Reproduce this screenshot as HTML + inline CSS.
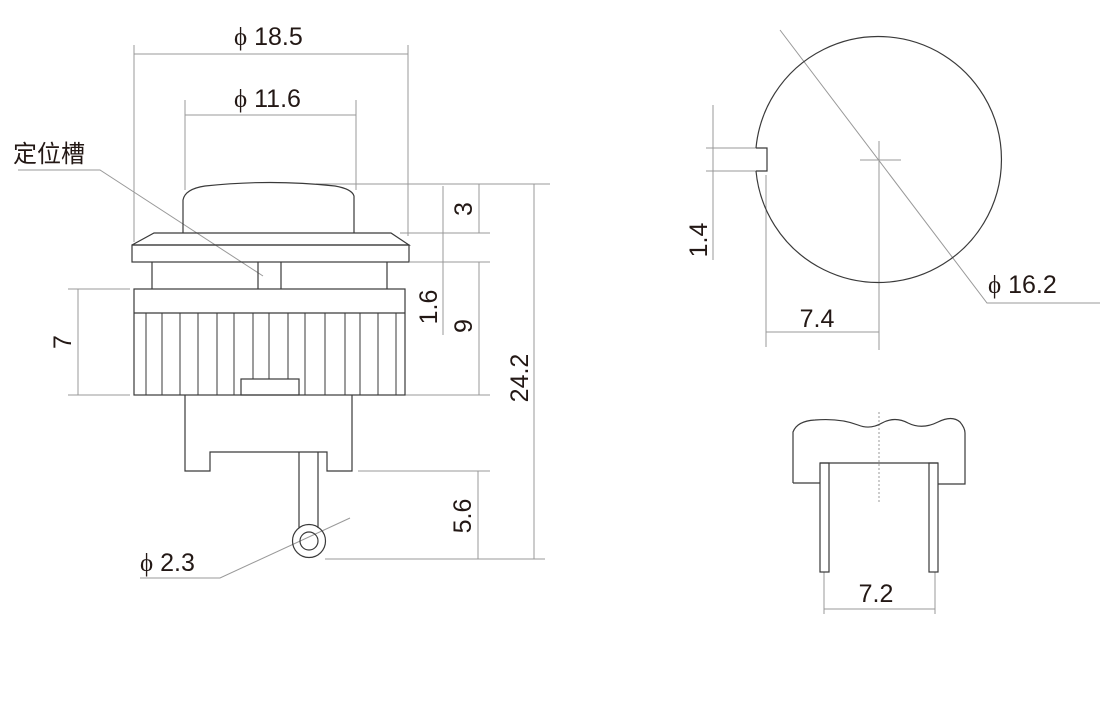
<!DOCTYPE html>
<html><head><meta charset="utf-8"><style>
html,body{margin:0;padding:0;background:#fff;}
svg{display:block;}
text{font-family:"Liberation Sans","Noto Sans CJK SC",sans-serif;fill:#231815;}
.p{font-family:"Liberation Serif",serif;}
</style></head><body>
<svg width="1120" height="712" viewBox="0 0 1120 712" xmlns="http://www.w3.org/2000/svg">
<g fill="none" stroke="#999" stroke-width="1">
<line x1="134" y1="45" x2="134" y2="242"/><line x1="408" y1="45" x2="408" y2="236"/>
<line x1="134" y1="54" x2="408" y2="54"/>
<line x1="185" y1="100" x2="185" y2="190"/><line x1="356" y1="100" x2="356" y2="190"/>
<line x1="185" y1="115" x2="356" y2="115"/>
<polyline points="18,170 100,170 263,276"/>
<line x1="68" y1="289" x2="130" y2="289"/><line x1="68" y1="395" x2="130" y2="395"/>
<line x1="78" y1="289" x2="78" y2="395"/>
<line x1="316" y1="184" x2="550" y2="184"/>
<line x1="400" y1="233" x2="490" y2="233"/>
<line x1="410" y1="262" x2="490" y2="262"/>
<line x1="405" y1="395" x2="490" y2="395"/>
<line x1="358" y1="471" x2="490" y2="471"/>
<line x1="325" y1="559" x2="545" y2="559"/>
<line x1="479" y1="184" x2="479" y2="233"/>
<line x1="443" y1="186" x2="443" y2="335"/>
<line x1="479" y1="262" x2="479" y2="395"/>
<line x1="534" y1="184" x2="534" y2="559"/>
<line x1="478" y1="471" x2="478" y2="559"/>
<polyline points="140,578 220,578 350,518"/>
<line x1="706" y1="148" x2="756" y2="148"/><line x1="706" y1="171" x2="756" y2="171"/>
<line x1="713" y1="105" x2="713" y2="260"/>
<line x1="766" y1="175" x2="766" y2="347"/>
<line x1="879" y1="141" x2="879" y2="350"/>
<line x1="860" y1="160" x2="901" y2="160"/>
<line x1="766" y1="332" x2="879" y2="332"/>
<polyline points="780,30 987,303 1100,303"/>
<line x1="824" y1="572" x2="824" y2="614"/><line x1="935" y1="572" x2="935" y2="614"/>
<line x1="824" y1="609" x2="935" y2="609"/>
<line x1="879" y1="412" x2="879" y2="502" stroke-dasharray="2,2"/>
</g>
<g fill="none" stroke="#3a3a3a" stroke-width="1.2">
<path d="M183,233 L183,200 Q185,189 205,186 Q270,179 335,186 Q352,189 354,196 L354,233"/>
<polygon points="154,233 391,233 409,245 132,245"/>
<rect x="132" y="245" width="277" height="17"/>
<line x1="152" y1="262" x2="152" y2="289"/><line x1="387" y1="262" x2="387" y2="289"/>
<line x1="258" y1="262" x2="258" y2="289"/><line x1="281" y1="262" x2="281" y2="289"/>
<rect x="134" y="289" width="271" height="106"/>
<line x1="134" y1="313" x2="405" y2="313"/>
<g stroke-width="1">
<line x1="146" y1="313" x2="146" y2="395"/><line x1="162" y1="313" x2="162" y2="395"/>
<line x1="180" y1="313" x2="180" y2="395"/><line x1="198" y1="313" x2="198" y2="395"/>
<line x1="217" y1="313" x2="217" y2="395"/><line x1="234" y1="313" x2="234" y2="395"/>
<line x1="253" y1="313" x2="253" y2="379"/><line x1="269" y1="313" x2="269" y2="379"/>
<line x1="288" y1="313" x2="288" y2="379"/><line x1="305" y1="313" x2="305" y2="395"/>
<line x1="325" y1="313" x2="325" y2="395"/><line x1="345" y1="313" x2="345" y2="395"/>
<line x1="360" y1="313" x2="360" y2="395"/><line x1="378" y1="313" x2="378" y2="395"/>
<line x1="396" y1="313" x2="396" y2="395"/>
</g>
<rect x="241" y="379" width="58" height="16"/>
<polyline points="185,395 185,471 210,471 210,452 327,452 327,471 352,471 352,395"/>
<line x1="299" y1="452" x2="299" y2="528"/><line x1="318" y1="452" x2="318" y2="528"/>
<circle cx="309" cy="541" r="16.5"/><circle cx="309" cy="541" r="9"/>
<path d="M756,148 A123,123 0 1 1 756,171"/>
<polyline points="756,148 767,148 767,171 756,171"/>
<path d="M793,483 L793,432 Q797,421 815,420 Q840,418 858,425 Q870,430 882,423 Q895,416 908,423 Q922,430 938,422 Q952,415 960,422 Q965,428 965,433 L965,484 L938,484"/>
<line x1="793" y1="483" x2="820" y2="483"/>
<line x1="820" y1="463" x2="938" y2="463"/>
<rect x="820" y="463" width="9" height="109"/>
<rect x="929" y="463" width="9" height="109"/>
</g>
<g font-size="25">
<text x="234" y="45"><tspan class="p">ϕ</tspan> 18.5</text>
<text x="234" y="107"><tspan class="p">ϕ</tspan> 11.6</text>
<text x="13" y="162" font-size="24" font-family="'Noto Serif CJK SC',serif">定位槽</text>
<text x="140" y="571"><tspan class="p">ϕ</tspan> 2.3</text>
<text transform="translate(71,342) rotate(-90)" text-anchor="middle">7</text>
<text transform="translate(472,209) rotate(-90)" text-anchor="middle">3</text>
<text transform="translate(437,307) rotate(-90)" text-anchor="middle">1.6</text>
<text transform="translate(472,326) rotate(-90)" text-anchor="middle">9</text>
<text transform="translate(528,378) rotate(-90)" text-anchor="middle">24.2</text>
<text transform="translate(471,516) rotate(-90)" text-anchor="middle">5.6</text>
<text transform="translate(707,240) rotate(-90)" text-anchor="middle">1.4</text>
<text x="988" y="293"><tspan class="p">ϕ</tspan> 16.2</text>
<text x="817" y="327" text-anchor="middle">7.4</text>
<text x="876" y="602" text-anchor="middle">7.2</text>
</g>
</svg>
</body></html>
